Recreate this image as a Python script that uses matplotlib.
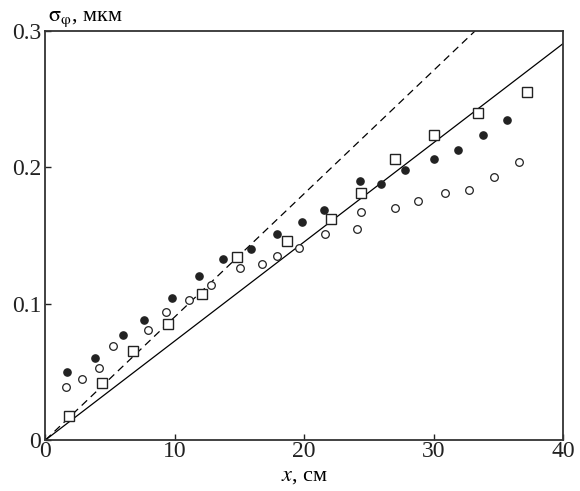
import matplotlib
matplotlib.use('Agg')
import matplotlib.pyplot as plt
import numpy as np

# filled circles
x_fill = [1.7, 3.8, 6.0, 7.6, 9.8, 11.9, 13.7, 15.9, 17.9, 19.8, 21.5, 24.3, 25.9, 27.8, 30.0, 31.9, 33.8, 35.7]
y_fill = [0.050, 0.060, 0.077, 0.088, 0.104, 0.120, 0.133, 0.140, 0.151, 0.160, 0.169, 0.190, 0.188, 0.198, 0.206, 0.213, 0.224, 0.235]

# open circles
x_open = [1.6, 2.8, 4.1, 5.2, 7.9, 9.3, 11.1, 12.8, 15.0, 16.7, 17.9, 19.6, 21.6, 24.1, 24.4, 27.0, 28.8, 30.9, 32.7, 34.7, 36.6]
y_open = [0.039, 0.0445, 0.053, 0.069, 0.081, 0.094, 0.103, 0.114, 0.126, 0.129, 0.135, 0.141, 0.151, 0.155, 0.167, 0.170, 0.175, 0.181, 0.183, 0.193, 0.204]

# squares
x_sq = [1.8, 4.4, 6.8, 9.5, 12.1, 14.8, 18.7, 22.1, 24.4, 27.0, 30.0, 33.4, 37.2]
y_sq = [0.0176, 0.0416, 0.0655, 0.085, 0.107, 0.134, 0.146, 0.162, 0.181, 0.206, 0.224, 0.240, 0.255]

# straight lines through the origin
slope_solid = 0.2907 / 40
slope_dash = 0.3 / 33.2

plt.rcParams['font.family'] = ['Liberation Serif', 'DejaVu Serif']
plt.rcParams['mathtext.fontset'] = 'stix'

fig = plt.figure(figsize=(5.8, 4.91), dpi=100)
ax = fig.add_axes([0.0784, 0.1039, 0.8923, 0.833])

xl = np.array([0, 40])
ax.plot(xl, slope_solid * xl, 'k-', lw=0.9)
xd = np.array([0, 0.3 / slope_dash])
ax.plot(xd, slope_dash * xd, color='k', ls=(0, (6, 4)), lw=0.9)

ax.plot(x_fill, y_fill, 'o', ms=5.2, mfc='#222222', mec='#222222', ls='none')
ax.plot(x_open, y_open, 'o', ms=5.5, mfc='white', mec='#222222', mew=0.9, ls='none')
ax.plot(x_sq, y_sq, 's', ms=7.5, mfc='white', mec='#222222', mew=1.0, ls='none')

ax.set_xlim(0, 40)
ax.set_ylim(0, 0.3)
ax.set_xticks([0, 10, 20, 30, 40])
ax.set_xticklabels(['0', '10', '20', '30', '40'])
ax.set_yticks([0, 0.1, 0.2, 0.3])
ax.set_yticklabels(['0', '0.1', '0.2', '0.3'])
ax.tick_params(direction='in', length=4, width=1, labelsize=17, colors='#222222')
ax.tick_params(axis='x', pad=1)
ax.tick_params(axis='y', pad=3)
for s in ax.spines.values():
    s.set_linewidth(1.3)
    s.set_color('#333333')

ax.set_xlabel(r'$x$, см', fontsize=16, labelpad=3)
ax.text(0.005, 1.005, r'$\mathrm{\sigma}_{\mathrm{\varphi}}$, мкм', transform=ax.transAxes,
        fontsize=16, ha='left', va='bottom')

fig.savefig('out.png', dpi=100)
